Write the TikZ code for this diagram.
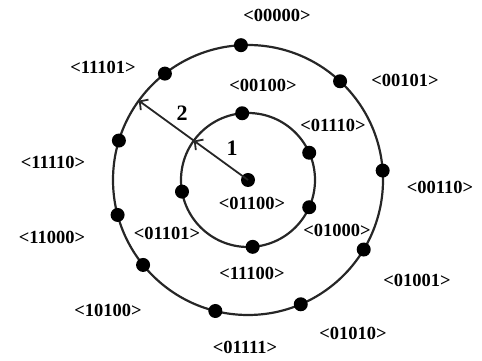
\documentclass[tikz,border=0pt]{standalone}
\usepackage{fontspec}
\setmainfont{Liberation Serif}[BoldFont={Liberation Serif Bold}]
\usetikzlibrary{arrows.meta}

\begin{document}
\begin{tikzpicture}[
    x=1pt, y=1pt,
    font=\bfseries\fontsize{18.5}{20}\selectfont,
    ring/.style={draw=black!85, line width=2.2pt},
    dot/.style={circle, fill=black, inner sep=0pt, minimum size=14pt},
    code/.style={inner sep=1pt},
    hop/.style={draw=black!85, line width=1.8pt,
        -{Straight Barb[length=6pt, width=13pt, line width=1.8pt]}},
    hoplbl/.style={font=\bfseries\fontsize{22}{24}\selectfont, inner sep=1pt}
]
\useasboundingbox (0,0) rectangle (482,361);

% Rings round the source node
\coordinate (c) at (248,181);
\draw[ring] (c) circle (135);
\draw[ring] (c) circle (67);

% Source node and first ring
\node[dot] (src) at (c) {};
\node[dot] (i00100) at ([shift={(95:67)}]c) {};
\node[dot] (i01110) at ([shift={(24:67)}]c) {};
\node[dot] (i01000) at ([shift={(-24:67)}]c) {};
\node[dot] (i11100) at ([shift={(-86:67)}]c) {};
\node[dot] (i01101) at ([shift={(190:67)}]c) {};

% Second ring
\node[dot] (o00000) at ([shift={(93:135)}]c) {};
\node[dot] (o00101) at ([shift={(47:135)}]c) {};
\node[dot] (o00110) at ([shift={(4:135)}]c) {};
\node[dot] (o01001) at ([shift={(-31:135)}]c) {};
\node[dot] (o01010) at ([shift={(-67:135)}]c) {};
\node[dot] (o01111) at ([shift={(-104:135)}]c) {};
\node[dot] (o10100) at ([shift={(219:135)}]c) {};
\node[dot] (o11000) at ([shift={(195:135)}]c) {};
\node[dot] (o11110) at ([shift={(163:135)}]c) {};
\node[dot] (o11101) at ([shift={(128:135)}]c) {};

% Node addresses
\node[code] (l00000) at (277,346) {<00000>};
\node[code] (l11101) at (103,294) {<11101>};
\node[code] (l00101) at (405,281) {<00101>};
\node[code] (l00100) at (263,276) {<00100>};
\node[code] (l01110) at (333,236) {<01110>};
\node[code] (l11110) at (53,199) {<11110>};
\node[code] (l00110) at (440,174) {<00110>};
\node[code] (l01100) at (252,158) {<01100>};
\node[code] (l01101) at (167,128) {<01101>};
\node[code] (l01000) at (337,131) {<01000>};
\node[code] (l11000) at (52,124) {<11000>};
\node[code] (l11100) at (252,88) {<11100>};
\node[code] (l01001) at (417,81) {<01001>};
\node[code] (l10100) at (108,51) {<10100>};
\node[code] (l01010) at (353,28) {<01010>};
\node[code] (l01111) at (245,14) {<01111>};

% Hop distances
\coordinate (hop1) at ([shift={(144:67)}]c);
\coordinate (hop2) at ([shift={(144:135)}]c);
\draw[hop] (src.center) -- (hop1);
\draw[hop] (hop1) -- (hop2);
\node[hoplbl] (d2) at (182,248) {2};
\node[hoplbl] (d1) at (232,213) {1};

\end{tikzpicture}
\end{document}
